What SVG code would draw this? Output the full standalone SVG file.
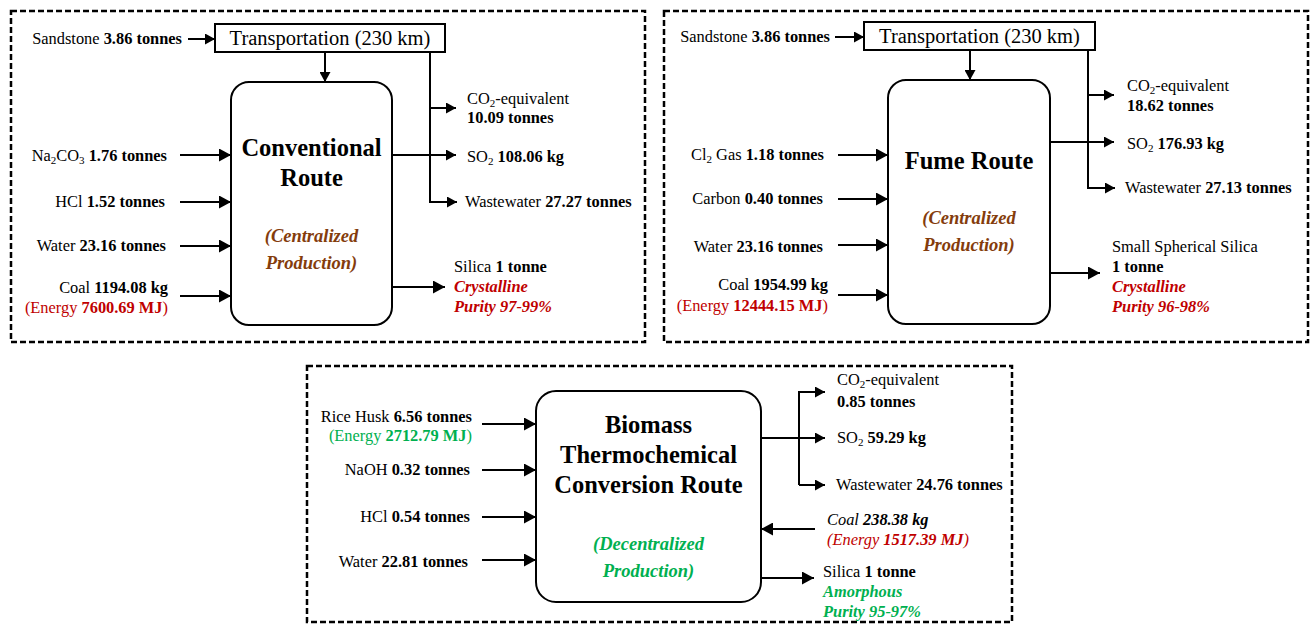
<svg xmlns="http://www.w3.org/2000/svg" width="1311" height="626" viewBox="0 0 1311 626">
<style>
text{font-family:"Liberation Serif","Times New Roman",serif;font-size:16.4px;fill:#000}
.b{font-weight:bold}
.i{font-style:italic}
.e{text-anchor:end}
.m{text-anchor:middle}
.t{font-size:24.5px;font-weight:bold}
.tr{font-size:20.5px}
.s{font-size:18.5px;font-weight:bold;font-style:italic}
.br{fill:#843C0C}
.red{fill:#C00000}
.g{fill:#00B050}
.sub{font-size:11px}
.panel{fill:none;stroke:#000;stroke-width:2.5;stroke-dasharray:6 3}
.box{fill:#fff;stroke:#000;stroke-width:2}
.c{fill:none;stroke:#000;stroke-width:2}
.ca{fill:none;stroke:#000;stroke-width:2;marker-end:url(#a)}
.cb{fill:none;stroke:#000;stroke-width:2;marker-end:url(#b)}
</style>
<defs>
<marker id="a" markerUnits="userSpaceOnUse" markerWidth="10" markerHeight="11" refX="10" refY="5.5" orient="auto"><path d="M0,0 L10,5.5 L0,11 z" fill="#000"/></marker>
<marker id="b" markerUnits="userSpaceOnUse" markerWidth="12" markerHeight="13" refX="12" refY="6.5" orient="auto"><path d="M0,0 L12,6.5 L0,13 z" fill="#000"/></marker>
</defs>
<rect width="1311" height="626" fill="#fff"/>

<g id="panels">
<rect class="panel" x="11" y="11" width="634" height="331"/>
<rect class="panel" x="664" y="11" width="644" height="331"/>
<rect class="panel" x="307" y="366" width="705" height="256"/>
</g>

<g id="connectors">
<!-- panel 1 -->
<line class="ca" x1="188" y1="39" x2="215" y2="39"/>
<line class="ca" x1="325" y1="52" x2="325" y2="82"/>
<line class="cb" x1="180" y1="155" x2="231" y2="155"/>
<line class="cb" x1="180" y1="202" x2="231" y2="202"/>
<line class="cb" x1="180" y1="246" x2="231" y2="246"/>
<line class="cb" x1="180" y1="296" x2="231" y2="296"/>
<path class="ca" d="M430,52 V202 H457"/>
<line class="ca" x1="430" y1="108" x2="456" y2="108"/>
<line class="ca" x1="392" y1="155" x2="456" y2="155"/>
<line class="cb" x1="392" y1="287" x2="445" y2="287"/>
<!-- panel 2 -->
<line class="ca" x1="835" y1="37" x2="864" y2="37"/>
<line class="ca" x1="970" y1="50" x2="970" y2="80"/>
<line class="cb" x1="838" y1="155" x2="888" y2="155"/>
<line class="cb" x1="838" y1="199" x2="888" y2="199"/>
<line class="cb" x1="838" y1="245" x2="888" y2="245"/>
<line class="cb" x1="838" y1="295" x2="888" y2="295"/>
<path class="ca" d="M1088,50 V188 H1115"/>
<line class="ca" x1="1088" y1="95" x2="1114" y2="95"/>
<line class="ca" x1="1050" y1="142" x2="1114" y2="142"/>
<line class="cb" x1="1050" y1="273" x2="1100" y2="273"/>
<!-- panel 3 -->
<line class="cb" x1="482" y1="424" x2="536" y2="424"/>
<line class="cb" x1="482" y1="470" x2="536" y2="470"/>
<line class="cb" x1="482" y1="517" x2="536" y2="517"/>
<line class="cb" x1="482" y1="560" x2="536" y2="560"/>
<path class="ca" d="M799,485 V392 H825"/>
<line class="ca" x1="799" y1="485" x2="825" y2="485"/>
<line class="ca" x1="761" y1="438" x2="825" y2="438"/>
<line class="cb" x1="815" y1="529" x2="761" y2="529"/>
<line class="cb" x1="761" y1="578" x2="814" y2="578"/>
</g>

<g id="transport1">
<rect x="215" y="24" width="230" height="28" fill="#fff" stroke="#000" stroke-width="2"/>
<text class="tr m" x="330" y="45">Transportation (230 km)</text>
</g>
<g id="transport2">
<rect x="864" y="22" width="231" height="28" fill="#fff" stroke="#000" stroke-width="2"/>
<text class="tr m" x="979.5" y="43">Transportation (230 km)</text>
</g>

<g id="conventional">
<rect class="box" x="231" y="82" width="161" height="243" rx="18"/>
<text class="t m" x="311.5" y="156">Conventional</text>
<text class="t m" x="311.5" y="186">Route</text>
<text class="s m br" x="311.5" y="242">(Centralized</text>
<text class="s m br" x="311.5" y="269">Production)</text>
</g>
<g id="fume">
<rect class="box" x="888" y="80" width="162" height="244" rx="18"/>
<text class="t m" x="969" y="169">Fume Route</text>
<text class="s m br" x="969" y="224">(Centralized</text>
<text class="s m br" x="969" y="251">Production)</text>
</g>
<g id="biomass">
<rect class="box" x="536" y="391" width="225" height="211" rx="20"/>
<text class="t m" x="648.5" y="433">Biomass</text>
<text class="t m" x="648.5" y="463">Thermochemical</text>
<text class="t m" x="648.5" y="493">Conversion Route</text>
<text class="s m g" x="648.5" y="550">(Decentralized</text>
<text class="s m g" x="648.5" y="577">Production)</text>
</g>

<g id="labels1">
<text class="e" x="182" y="44">Sandstone <tspan class="b">3.86 tonnes</tspan></text>
<text class="e" x="167" y="161">Na<tspan class="sub" dy="3">2</tspan><tspan dy="-3">CO</tspan><tspan class="sub" dy="3">3</tspan><tspan dy="-3" class="b"> 1.76 tonnes</tspan></text>
<text class="e" x="165" y="207">HCl <tspan class="b">1.52 tonnes</tspan></text>
<text class="e" x="166" y="251">Water <tspan class="b">23.16 tonnes</tspan></text>
<text class="e" x="168" y="293">Coal <tspan class="b">1194.08 kg</tspan></text>
<text class="e red" x="168" y="313">(Energy <tspan class="b">7600.69 MJ</tspan>)</text>
<text x="467" y="104">CO<tspan class="sub" dy="3">2</tspan><tspan dy="-3">-equivalent</tspan></text>
<text class="b" x="467" y="123">10.09 tonnes</text>
<text x="467" y="162">SO<tspan class="sub" dy="3">2</tspan><tspan dy="-3" class="b"> 108.06 kg</tspan></text>
<text x="465" y="207">Wastewater <tspan class="b">27.27 tonnes</tspan></text>
<text x="454" y="272">Silica <tspan class="b">1 tonne</tspan></text>
<text class="b i red" x="454" y="292">Crystalline</text>
<text class="b i red" x="454" y="312">Purity 97-99%</text>
</g>

<g id="labels2">
<text class="e" x="830" y="42">Sandstone <tspan class="b">3.86 tonnes</tspan></text>
<text class="e" x="824" y="160">Cl<tspan class="sub" dy="3">2</tspan><tspan dy="-3"> Gas </tspan><tspan class="b">1.18 tonnes</tspan></text>
<text class="e" x="823" y="204">Carbon <tspan class="b">0.40 tonnes</tspan></text>
<text class="e" x="823" y="252">Water <tspan class="b">23.16 tonnes</tspan></text>
<text class="e" x="828" y="290">Coal <tspan class="b">1954.99 kg</tspan></text>
<text class="e red" x="828" y="311">(Energy <tspan class="b">12444.15 MJ</tspan>)</text>
<text x="1127" y="91">CO<tspan class="sub" dy="3">2</tspan><tspan dy="-3">-equivalent</tspan></text>
<text class="b" x="1127" y="111">18.62 tonnes</text>
<text x="1127" y="149">SO<tspan class="sub" dy="3">2</tspan><tspan dy="-3" class="b"> 176.93 kg</tspan></text>
<text x="1125" y="193">Wastewater <tspan class="b">27.13 tonnes</tspan></text>
<text x="1112" y="252">Small Spherical Silica</text>
<text class="b" x="1112" y="272">1 tonne</text>
<text class="b i red" x="1112" y="292">Crystalline</text>
<text class="b i red" x="1112" y="312">Purity 96-98%</text>
</g>

<g id="labels3">
<text class="e" x="472" y="422">Rice Husk <tspan class="b">6.56 tonnes</tspan></text>
<text class="e g" x="472" y="441">(Energy <tspan class="b">2712.79 MJ</tspan>)</text>
<text class="e" x="470" y="475">NaOH <tspan class="b">0.32 tonnes</tspan></text>
<text class="e" x="470" y="522">HCl <tspan class="b">0.54 tonnes</tspan></text>
<text class="e" x="468" y="567">Water <tspan class="b">22.81 tonnes</tspan></text>
<text x="837" y="385">CO<tspan class="sub" dy="3">2</tspan><tspan dy="-3">-equivalent</tspan></text>
<text class="b" x="837" y="407">0.85 tonnes</text>
<text x="837" y="443">SO<tspan class="sub" dy="3">2</tspan><tspan dy="-3" class="b"> 59.29 kg</tspan></text>
<text x="836" y="490">Wastewater <tspan class="b">24.76 tonnes</tspan></text>
<text class="i" x="827" y="525">Coal <tspan class="b">238.38 kg</tspan></text>
<text class="i red" x="827" y="545">(Energy <tspan class="b">1517.39 MJ</tspan>)</text>
<text x="823" y="577">Silica <tspan class="b">1 tonne</tspan></text>
<text class="b i g" x="823" y="597">Amorphous</text>
<text class="b i g" x="823" y="617">Purity 95-97%</text>
</g>
</svg>
